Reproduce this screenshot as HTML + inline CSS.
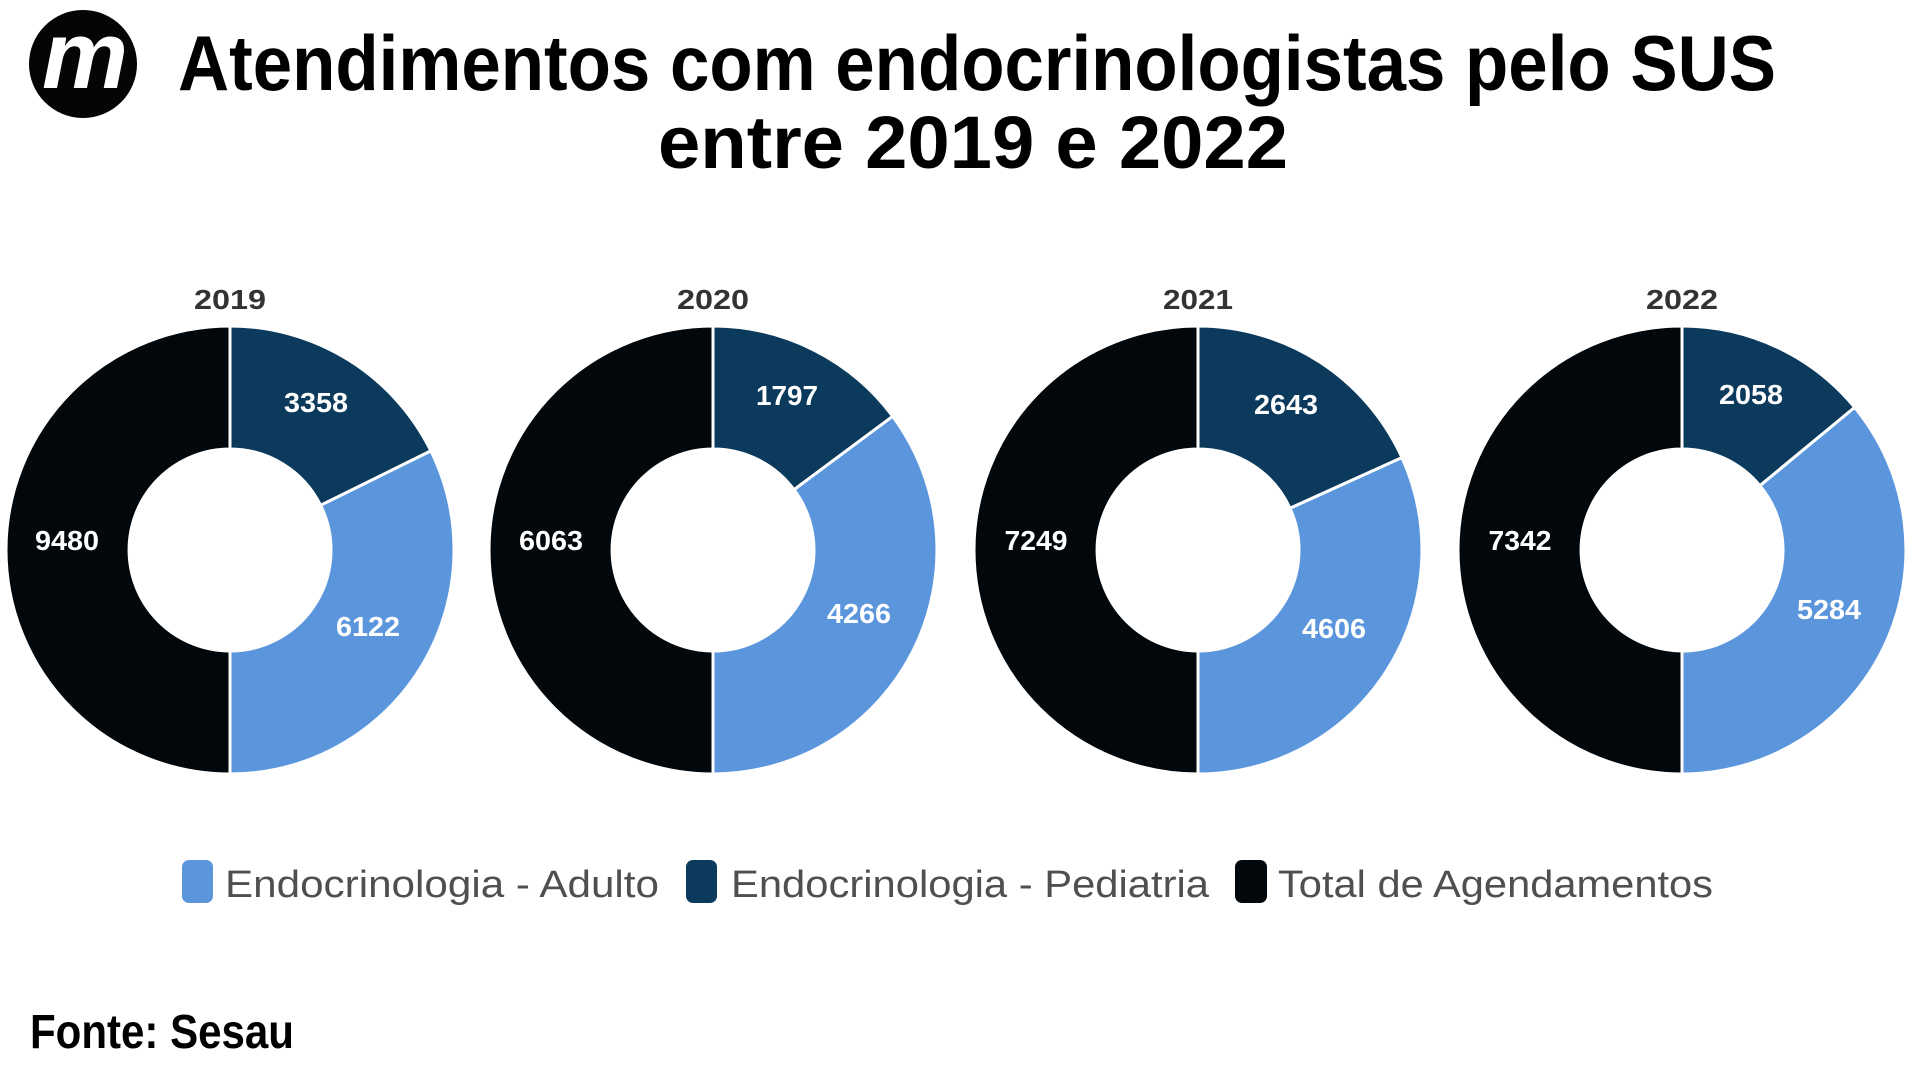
<!DOCTYPE html>
<html>
<head>
<meta charset="utf-8">
<style>
  html, body { margin:0; padding:0; background:#ffffff; }
  body { width:1920px; height:1080px; overflow:hidden; }
  svg { display:block; }
</style>
</head>
<body>
<svg width="1920" height="1080" viewBox="0 0 1920 1080" xmlns="http://www.w3.org/2000/svg">
  <rect width="1920" height="1080" fill="#ffffff"/>

  <!-- Logo -->
  <circle cx="83" cy="64" r="54" fill="#050505"/>
  <text x="85" y="88" text-anchor="middle" font-family="Liberation Sans, sans-serif" font-weight="bold" font-style="italic" font-size="96" fill="#ffffff" textLength="86" lengthAdjust="spacingAndGlyphs">m</text>

  <!-- Title -->
  <text x="977" y="90" text-anchor="middle" font-family="Liberation Sans, sans-serif" font-weight="bold" font-size="78" fill="#000000" textLength="1598" lengthAdjust="spacingAndGlyphs">Atendimentos com endocrinologistas pelo SUS</text>
  <text x="973" y="168" text-anchor="middle" font-family="Liberation Sans, sans-serif" font-weight="bold" font-size="74" fill="#000000" textLength="630" lengthAdjust="spacingAndGlyphs">entre 2019 e 2022</text>

  <g stroke="#ffffff" stroke-width="3" stroke-linejoin="round">
    <!-- 2019 -->
    <path d="M230,326 A224,224 0 0 1 430.9,450.9 L320.6,505.3 A101,101 0 0 0 230,449 Z" fill="#0b3a5c"/>
    <path d="M430.9,450.9 A224,224 0 0 1 230,774 L230,651 A101,101 0 0 0 320.6,505.3 Z" fill="#5b96dd"/>
    <path d="M230,774 A224,224 0 0 1 230,326 L230,449 A101,101 0 0 0 230,651 Z" fill="#02070b"/>
    <!-- 2020 -->
    <path d="M713,326 A224,224 0 0 1 892.7,416.3 L794.0,489.7 A101,101 0 0 0 713,449 Z" fill="#0b3a5c"/>
    <path d="M892.7,416.3 A224,224 0 0 1 713,774 L713,651 A101,101 0 0 0 794.0,489.7 Z" fill="#5b96dd"/>
    <path d="M713,774 A224,224 0 0 1 713,326 L713,449 A101,101 0 0 0 713,651 Z" fill="#02070b"/>
    <!-- 2021 -->
    <path d="M1198,326 A224,224 0 0 1 1402.0,457.6 L1290.0,508.3 A101,101 0 0 0 1198,449 Z" fill="#0b3a5c"/>
    <path d="M1402.0,457.6 A224,224 0 0 1 1198,774 L1198,651 A101,101 0 0 0 1290.0,508.3 Z" fill="#5b96dd"/>
    <path d="M1198,774 A224,224 0 0 1 1198,326 L1198,449 A101,101 0 0 0 1198,651 Z" fill="#02070b"/>
    <!-- 2022 -->
    <path d="M1682,326 A224,224 0 0 1 1854.7,407.4 L1759.9,485.7 A101,101 0 0 0 1682,449 Z" fill="#0b3a5c"/>
    <path d="M1854.7,407.4 A224,224 0 0 1 1682,774 L1682,651 A101,101 0 0 0 1759.9,485.7 Z" fill="#5b96dd"/>
    <path d="M1682,774 A224,224 0 0 1 1682,326 L1682,449 A101,101 0 0 0 1682,651 Z" fill="#02070b"/>
  </g>

  <!-- Year labels -->
  <g font-family="Liberation Sans, sans-serif" font-weight="bold" font-size="28" fill="#333333" text-anchor="middle">
    <text x="230" y="309" textLength="72" lengthAdjust="spacingAndGlyphs">2019</text>
    <text x="713" y="309" textLength="72" lengthAdjust="spacingAndGlyphs">2020</text>
    <text x="1198" y="309" textLength="70" lengthAdjust="spacingAndGlyphs">2021</text>
    <text x="1682" y="309" textLength="72" lengthAdjust="spacingAndGlyphs">2022</text>
  </g>

  <!-- Value labels -->
  <g font-family="Liberation Sans, sans-serif" font-weight="bold" font-size="28" fill="#ffffff" text-anchor="middle">
    <text x="316" y="412" textLength="64" lengthAdjust="spacingAndGlyphs">3358</text>
    <text x="368" y="636" textLength="64" lengthAdjust="spacingAndGlyphs">6122</text>
    <text x="67" y="550" textLength="64" lengthAdjust="spacingAndGlyphs">9480</text>

    <text x="787" y="405" textLength="62" lengthAdjust="spacingAndGlyphs">1797</text>
    <text x="859" y="623" textLength="64" lengthAdjust="spacingAndGlyphs">4266</text>
    <text x="551" y="550" textLength="64" lengthAdjust="spacingAndGlyphs">6063</text>

    <text x="1286" y="414" textLength="64" lengthAdjust="spacingAndGlyphs">2643</text>
    <text x="1334" y="638" textLength="64" lengthAdjust="spacingAndGlyphs">4606</text>
    <text x="1036" y="550" textLength="63" lengthAdjust="spacingAndGlyphs">7249</text>

    <text x="1751" y="404" textLength="64" lengthAdjust="spacingAndGlyphs">2058</text>
    <text x="1829" y="619" textLength="64" lengthAdjust="spacingAndGlyphs">5284</text>
    <text x="1520" y="550" textLength="63" lengthAdjust="spacingAndGlyphs">7342</text>
  </g>

  <!-- Legend -->
  <rect x="182" y="860" width="31" height="43" rx="7" ry="7" fill="#5b96dd"/>
  <rect x="686" y="860" width="31" height="43" rx="7" ry="7" fill="#0b3a5c"/>
  <rect x="1235" y="860" width="32" height="43" rx="7" ry="7" fill="#02070b"/>
  <g font-family="Liberation Sans, sans-serif" font-size="38" fill="#4f4f4f">
    <text x="225" y="897" textLength="434" lengthAdjust="spacingAndGlyphs">Endocrinologia - Adulto</text>
    <text x="731" y="897" textLength="478" lengthAdjust="spacingAndGlyphs">Endocrinologia - Pediatria</text>
    <text x="1278" y="897" textLength="435" lengthAdjust="spacingAndGlyphs">Total de Agendamentos</text>
  </g>

  <!-- Source -->
  <text x="30" y="1048" font-family="Liberation Sans, sans-serif" font-weight="bold" font-size="48" fill="#000000" textLength="264" lengthAdjust="spacingAndGlyphs">Fonte: Sesau</text>
</svg>
</body>
</html>
